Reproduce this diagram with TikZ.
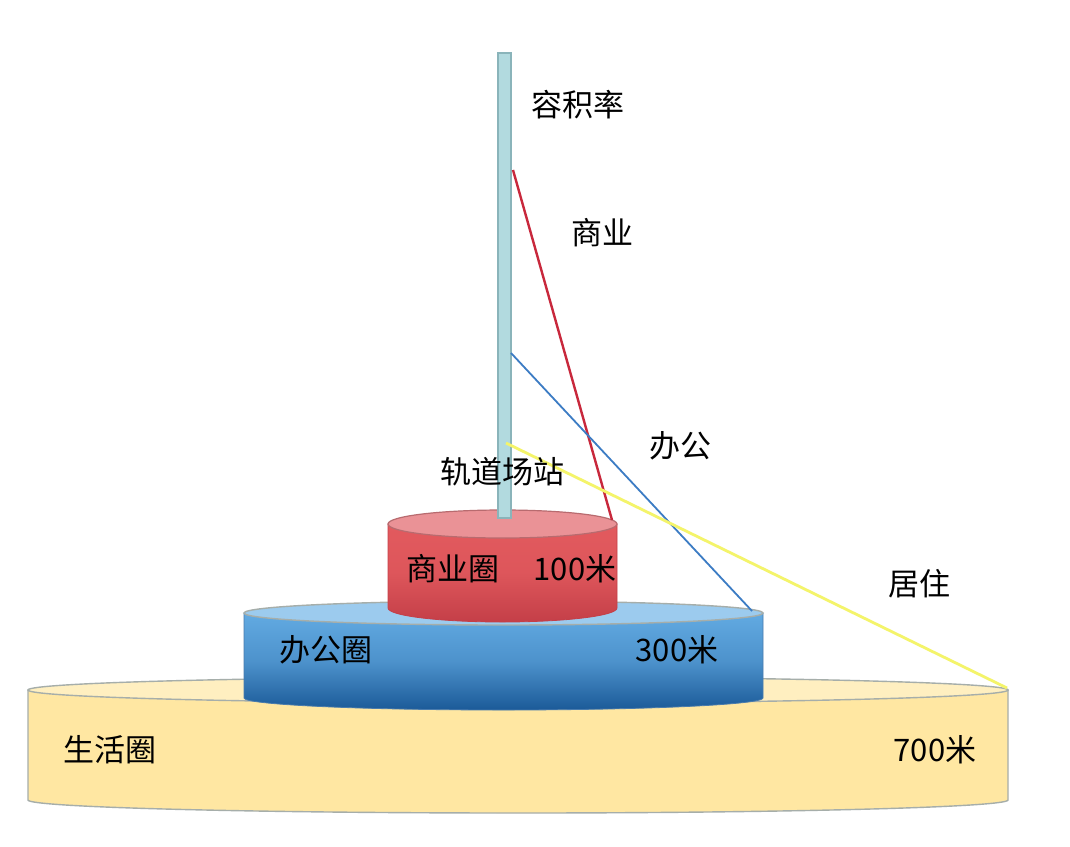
\documentclass[tikz,border=0pt]{standalone}
\usepackage{fontspec}
\setmainfont{Noto Sans CJK SC}
\definecolor{polefill}{HTML}{B2DADF}
\definecolor{poledraw}{HTML}{8AB4BA}
\definecolor{shoptop}{HTML}{EA9296}
\definecolor{shophi}{HTML}{E25A5E}
\definecolor{shoplo}{HTML}{C43F48}
\definecolor{officetop}{HTML}{9CCBEE}
\definecolor{officehi}{HTML}{62AAE2}
\definecolor{officelo}{HTML}{1B5A98}
\definecolor{lifefill}{HTML}{FFE7A2}
\definecolor{lifetop}{HTML}{FFEFC0}
\definecolor{rimgray}{HTML}{A6AEAA}
\definecolor{shopline}{HTML}{C8283C}
\definecolor{officeline}{HTML}{3C7CC4}
\definecolor{homeline}{HTML}{F4F46A}

\begin{document}
\begin{tikzpicture}[x=0.5pt,y=-0.5pt,
  lbl/.style={font=\fontsize{15.5}{18}\selectfont,inner sep=0pt},
  rim/.style={draw=rimgray,line width=0.7pt}]
\useasboundingbox (0,0) rectangle (1070,846);
\fill[white] (0,0) rectangle (1070,846);

\draw[rim,fill=lifefill] (28,690) -- (28,800) arc[start angle=180,end angle=0,x radius=490,y radius=13] -- (1008,690) -- cycle;
\draw[rim,fill=lifetop] (518,690) ellipse[x radius=490,y radius=13];
\node[lbl] (life) at (110,750) {生活圈};
\node[lbl] (life r) at (935,750) {700米};

\draw[draw=officelo!80,top color=officehi,bottom color=officelo,middle color=officehi!70!officelo] (244,613) -- (244,698) arc[start angle=180,end angle=0,x radius=259.5,y radius=12] -- (763,613) -- cycle;
\draw[rim,fill=officetop] (503.5,613) ellipse[x radius=259.5,y radius=12];
\node[lbl] (office) at (326,650) {办公圈};
\node[lbl] (office r) at (677,650) {300米};

\draw[draw=shoplo,top color=shophi,bottom color=shoplo,middle color=shophi!85!shoplo] (388,524) -- (388,608) arc[start angle=180,end angle=0,x radius=114.5,y radius=14] -- (617,524) -- cycle;
\draw[draw=shoplo!60!rimgray,line width=0.6pt,fill=shoptop] (502.5,524) ellipse[x radius=114.5,y radius=14];
\node[lbl] (shop) at (453,569) {商业圈};
\node[lbl] (shop r) at (575,569) {100米};

\draw[poledraw,fill=polefill,line width=0.7pt] (498,53) rectangle (511,518);

\coordinate (pole a) at (513,170);
\coordinate (pole b) at (511,353);
\coordinate (pole c) at (506,443);
\coordinate (shop rim) at (612,520);
\coordinate (office rim) at (752,611);
\coordinate (life rim) at (1007,688);
\draw[shopline,line width=1.2pt] (pole a) -- (shop rim);
\draw[officeline,line width=0.9pt] (pole b) -- (office rim);
\draw[homeline,line width=1.4pt] (pole c) -- (life rim);

\node[lbl] (far) at (578,105) {容积率};
\node[lbl] (sale) at (602,233) {商业};
\node[lbl] (work) at (680,446) {办公};
\node[lbl] (rail) at (502,472) {轨道场站};
\node[lbl] (home) at (919,584) {居住};
\end{tikzpicture}
\end{document}
